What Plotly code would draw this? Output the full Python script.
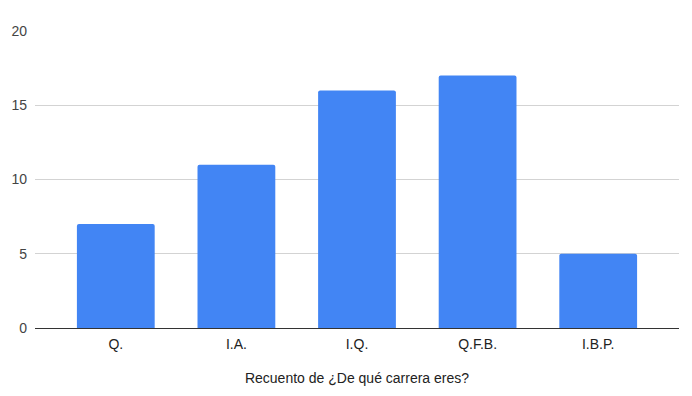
import plotly.graph_objects as go

categories = ["Q.", "I.A.", "I.Q.", "Q.F.B.", "I.B.P."]
counts = [7, 11, 16, 17, 5]
y_ticks = [0, 5, 10, 15, 20]

fig = go.Figure(
    go.Bar(
        x=categories,
        y=counts,
        marker=dict(color="#4285F4", line=dict(width=0), cornerradius=2),
        width=0.645,
        hoverinfo="x+y",
    )
)

fig.update_layout(
    width=692,
    height=396,
    margin=dict(l=27, r=21, t=23, b=76, autoexpand=False),
    paper_bgcolor="white",
    plot_bgcolor="white",
    showlegend=False,
    font=dict(family="Arial, 'Liberation Sans', sans-serif", size=14, color="#444444"),
    xaxis=dict(
        range=[-0.67, 4.67],
        showgrid=False,
        showline=True,
        linecolor="#333333",
        linewidth=1,
        ticks="",
        ticklabelstandoff=3,
        tickfont=dict(size=14, color="#222222"),
        title=dict(text="Recuento de ¿De qué carrera eres?",
                   font=dict(size=14, color="#222222"), standoff=22),
        zeroline=False,
        automargin=False,
    ),
    yaxis=dict(
        range=[0, 20],
        tickvals=y_ticks,
        showgrid=True,
        gridcolor="#d3d3d3",
        gridwidth=1,
        zeroline=False,
        ticks="",
        ticklabelstandoff=7,
        tickfont=dict(size=14, color="#444444"),
        automargin=False,
    ),
)

fig.write_html("out.html")
